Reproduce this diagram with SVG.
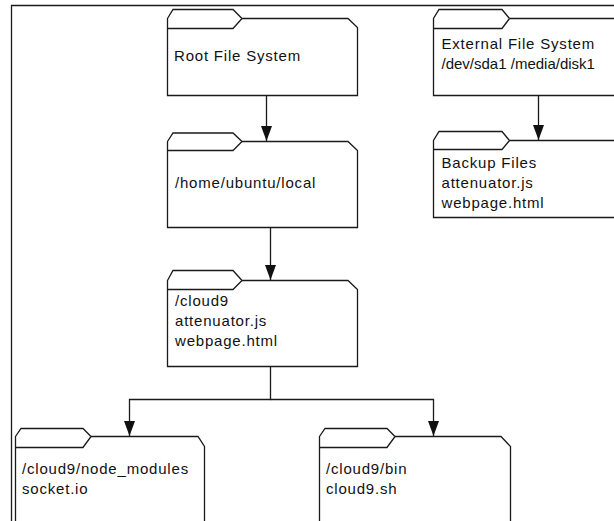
<svg xmlns="http://www.w3.org/2000/svg" width="614" height="521" viewBox="0 0 614 521">
  <defs>
    <style>
      .box { fill: #ffffff; stroke: #1a1a1a; stroke-width: 1.3; stroke-linejoin: miter; }
      .conn { fill: none; stroke: #1a1a1a; stroke-width: 1.3; }
      .frame { fill: none; stroke: #1a1a1a; stroke-width: 1.3; }
      text { font-family: "Liberation Sans", Arial, sans-serif; font-size: 15px; letter-spacing: 0.8px; fill: #111111; }
      text.tight { letter-spacing: 0px; }
    </style>
    <marker id="ah" markerUnits="userSpaceOnUse" markerWidth="16" markerHeight="12" refX="15" refY="5.5" orient="auto">
      <path d="M0,0 L15,5.5 L0,11 Z" fill="#111111"/>
    </marker>
  </defs>
  <rect width="614" height="521" fill="#ffffff"/>
  <path class="frame" d="M11.5,521 V5.5 H614"/>

  <g id="root-fs">
    <path class="box" d="M167.5,18.5 L173,9.5 L233,9.5 L242,18.5 L348,18.5 L357.5,27.5 L357.5,95.5 L167.5,95.5 Z"/>
    <path class="box" d="M167.5,28.5 L233,28.5 L242,18.5"/>
    <text x="174" y="60.5">Root File System</text>
  </g>

  <g id="home-local">
    <path class="box" d="M167.5,141.5 L173,133 L233,133 L242,141.5 L348,141.5 L357.5,150.5 L357.5,227.5 L167.5,227.5 Z"/>
    <path class="box" d="M167.5,150.5 L233,150.5 L242,141.5"/>
    <text x="175" y="188.3">/home/ubuntu/local</text>
  </g>

  <g id="cloud9">
    <path class="box" d="M167.5,280.5 L173,270.5 L233,270.5 L242,280.5 L348,280.5 L357.5,289.5 L357.5,366.5 L167.5,366.5 Z"/>
    <path class="box" d="M167.5,289.5 L233,289.5 L242,280.5"/>
    <text x="175" y="306.3">/cloud9</text>
    <text x="175" y="326.3">attenuator.js</text>
    <text x="175" y="346.3">webpage.html</text>
  </g>

  <g id="node-modules">
    <path class="box" d="M15.5,436.5 L21,428.5 L83,428.5 L91,436.5 L198,436.5 L204.5,446.5 L204.5,530 L15.5,530 Z"/>
    <path class="box" d="M15.5,447.5 L83,447.5 L91,436.5"/>
    <text x="22" y="474.3">/cloud9/node_modules</text>
    <text x="22" y="494.3">socket.io</text>
  </g>

  <g id="cloud9-bin">
    <path class="box" d="M319.5,436.5 L325,428.5 L387,428.5 L395,436.5 L501,436.5 L510.5,446.5 L510.5,530 L319.5,530 Z"/>
    <path class="box" d="M319.5,447.5 L387,447.5 L395,436.5"/>
    <text x="326" y="474.3">/cloud9/bin</text>
    <text x="326" y="494.3">cloud9.sh</text>
  </g>

  <g id="external-fs">
    <path class="box" d="M630,95.5 L433.5,95.5 L433.5,18.5 L439,9.5 L502,9.5 L509.5,18.5 L630,18.5"/>
    <path class="box" d="M433.5,28.5 L502,28.5 L509.5,18.5"/>
    <text x="441.5" y="49.3">External File System</text>
    <text class="tight" x="441.5" y="68.8">/dev/sda1 /media/disk1</text>
  </g>

  <g id="backup-files">
    <path class="box" d="M630,217.5 L433.5,217.5 L433.5,140.5 L439,131.5 L502,131.5 L509.5,140.5 L630,140.5"/>
    <path class="box" d="M433.5,149.5 L502,149.5 L509.5,140.5"/>
    <text x="441.5" y="168.3">Backup Files</text>
    <text x="441.5" y="188">attenuator.js</text>
    <text x="441.5" y="207.5">webpage.html</text>
  </g>

  <g id="connectors">
    <path class="conn" d="M266.5,95.5 V141" marker-end="url(#ah)"/>
    <path class="conn" d="M270.5,227.5 V280" marker-end="url(#ah)"/>
    <path class="conn" d="M270.5,366.5 V399.5 H129.5 V436" marker-end="url(#ah)"/>
    <path class="conn" d="M270.5,399.5 H433.5 V436" marker-end="url(#ah)"/>
    <path class="conn" d="M538.5,95.5 V140" marker-end="url(#ah)"/>
  </g>
</svg>
